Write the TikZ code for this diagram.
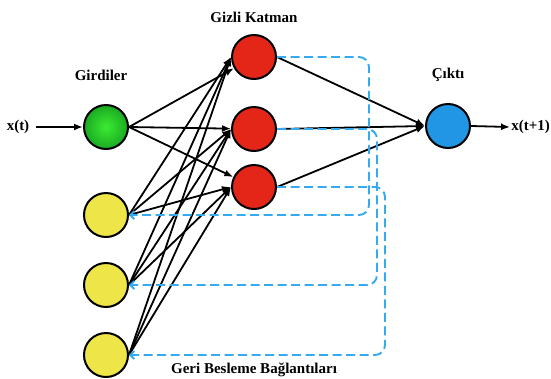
\documentclass[tikz,border=0pt]{standalone}
\usepackage{fontspec}
\setmainfont{Liberation Serif}
\usetikzlibrary{arrows.meta, positioning}
\definecolor{ingreen}{RGB}{30, 200, 40}
\definecolor{ingreenin}{RGB}{60, 235, 50}
\definecolor{hidred}{RGB}{228, 38, 24}
\definecolor{ctxyellow}{RGB}{238, 230, 72}
\definecolor{outblue}{RGB}{32, 150, 228}
\definecolor{fbblue}{RGB}{52, 170, 240}

\begin{document}
\begin{tikzpicture}[x=1pt, y=-1pt,
    neuron/.style={circle, draw=black, line width=2pt, minimum size=44pt, inner sep=0pt},
    conn/.style={line width=1.8pt, -{Latex[length=9pt, width=7pt]}},
    fb/.style={draw=fbblue, line width=1.9pt, dash pattern=on 9pt off 4.5pt, rounded corners=10pt, -{Straight Barb[length=4pt, width=8pt]}},
    lbl/.style={font=\fontsize{15}{17}\selectfont\bfseries}]
  \useasboundingbox (0,0) rectangle (551,378);

  % Girdiler
  \node[neuron, inner color=ingreenin, outer color=ingreen!85!black] (in) at (106,127) {};
  \node[lbl] (inlbl) at (101,75) {Girdiler};
  \node[lbl, anchor=center] (xt) at (18,127) {x(t)};

  % Gizli Katman
  \node[neuron, fill=hidred] (h1) at (254,57) {};
  \node[neuron, fill=hidred] (h2) at (254,129) {};
  \node[neuron, fill=hidred] (h3) at (254,187) {};
  \node[lbl] (hidlbl) at (254,17) {Gizli Katman};

  % geri besleme (context)
  \node[neuron, fill=ctxyellow] (y1) at (106,215) {};
  \node[neuron, fill=ctxyellow] (y2) at (106,285) {};
  \node[neuron, fill=ctxyellow] (y3) at (106,355) {};
  \node[lbl] (fblbl) at (254,370) {Geri Besleme Bağlantıları};

  % Çıktı
  \node[neuron, fill=outblue] (out) at (448,126) {};
  \node[lbl] (outlbl) at (448,75) {Çıktı};
  \node[lbl, anchor=east, inner sep=1pt] (xt1) at (551,127) {x(t+1)};

  % connections
  \draw[conn] (xt.east) ++(3,0) coordinate (xs) (xs) -- (in.west);
  \foreach \h in {h1,h2,h3} {
    \draw[conn] (in.east) -- (\h);
    \draw[conn] (\h.east) -- (out.west);
  }
  \foreach \y in {y1,y2,y3} {
    \foreach \h in {h1,h2,h3}
      \draw[conn] (\y.east) -- (\h.west);
  }
  \draw[conn] (out.east) -- (xt1.west);

  % feedback
  \coordinate (fb1) at (369,130);
  \coordinate (fb2) at (377,200);
  \coordinate (fb3) at (385,270);
  \draw[fb] (h1.east) -| (fb1) |- (y1.east);
  \draw[fb] (h2.east) -| (fb2) |- (y2.east);
  \draw[fb] (h3.east) -| (fb3) |- (y3.east);
\end{tikzpicture}
\end{document}
